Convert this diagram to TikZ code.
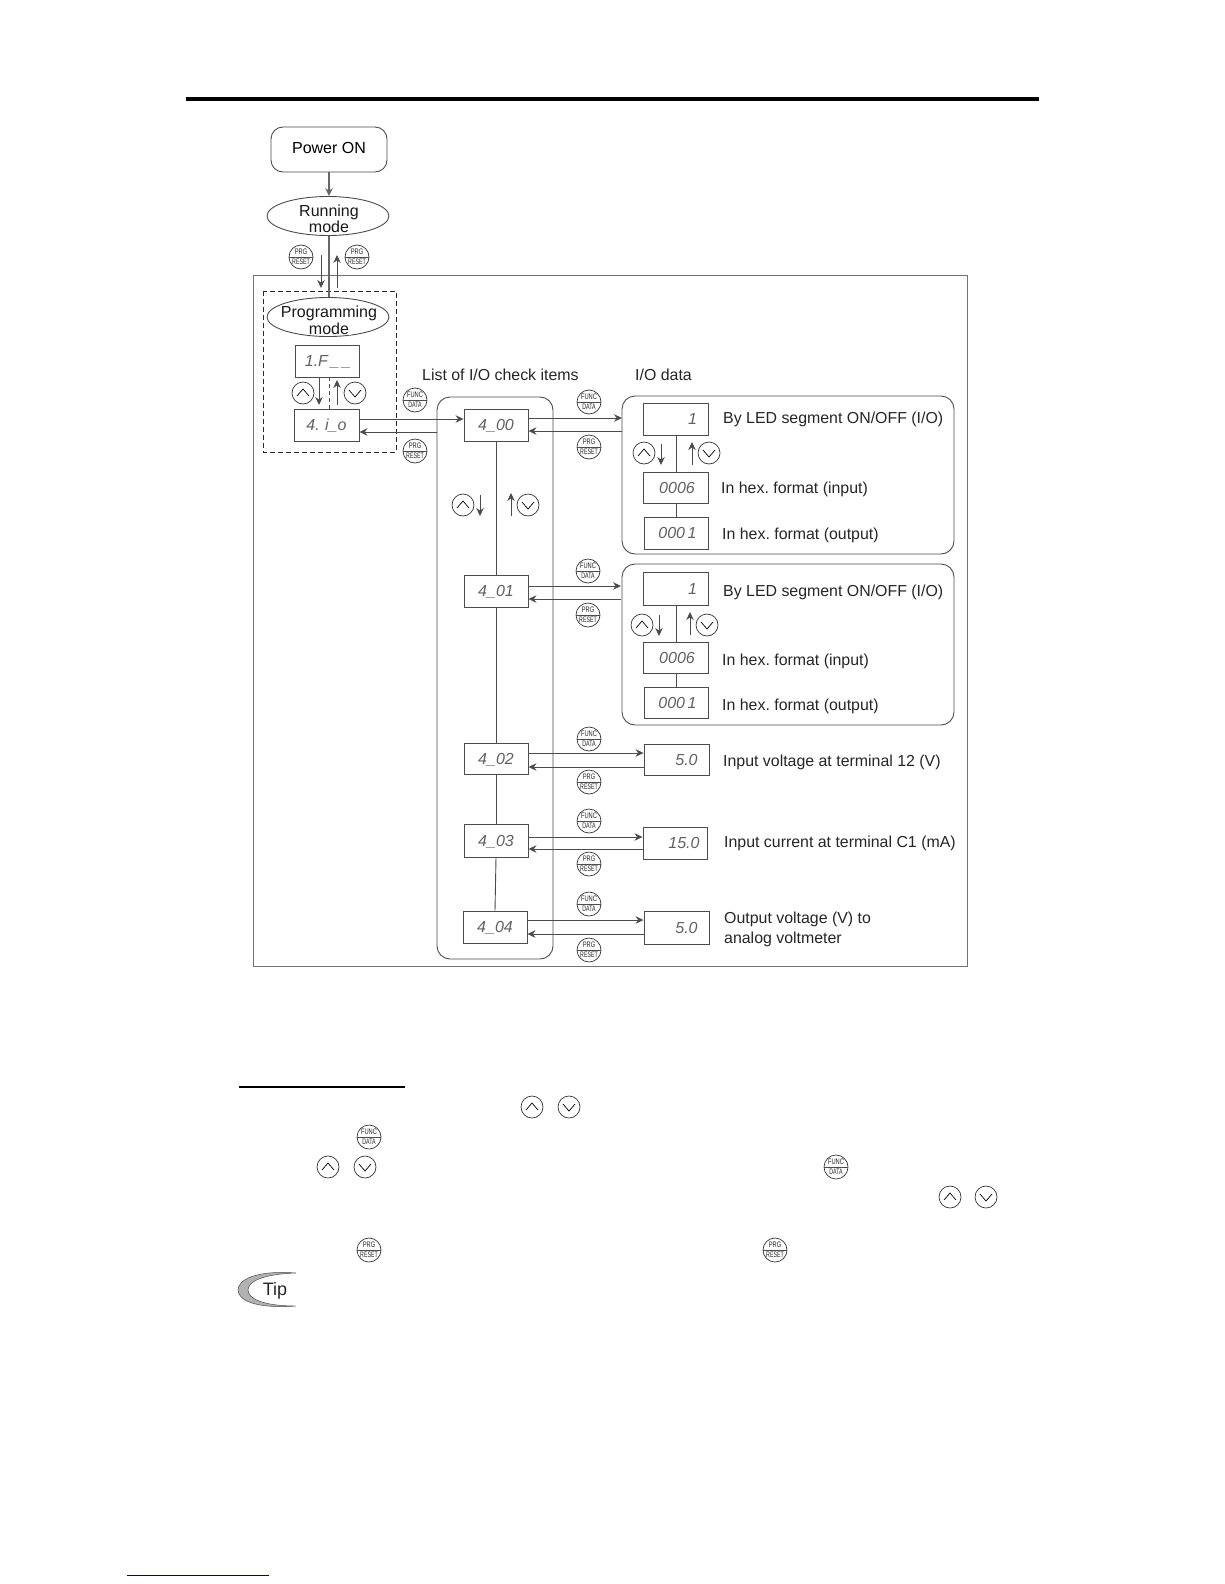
\documentclass[tikz,border=0pt]{standalone}
\usepackage{fontspec}
\usepackage{graphicx}
\setmainfont{Liberation Sans}
\usetikzlibrary{shapes.geometric,arrows.meta}
\definecolor{ln}{gray}{0.3}
\frenchspacing
\tikzset{
 x=1pt,y=-1pt,
 ln/.style={draw=ln,line width=0.9pt},
 arr/.style={ln,-{Stealth[length=8pt,width=7.5pt]}},
 lbl/.style={font=\fontsize{15.9}{20}\selectfont,inner sep=0pt,text=black!85,yshift=-1.2pt},
 lblL/.style={lbl,anchor=west},
 disp/.style={ln,fill=white,inner sep=0pt,font=\fontsize{16}{16}\selectfont\itshape,text=black!62,align=center,text height=11.5pt,text depth=0pt},
 btnshape/.style={ellipse,draw=black!80,line width=0.7pt,fill=white,inner sep=0pt,minimum width=#1,minimum height=#1},
 keytxt/.style={font=\fontsize{8}{8}\selectfont,inner sep=0pt,text=black!85},
 modeell/.style={ellipse,ln,fill=white,minimum width=122pt,minimum height=39pt,inner sep=0pt},
 modetxt/.style={inner sep=0pt,font=\fontsize{16}{15.5}\selectfont,text=black!90},
 panel/.style={ln,rounded corners=13pt,fill=white}
}
% two-legend key: name, x, y, upper, lower
\newcommand\legendkey[5]{%
 \node[btnshape=24pt] (#1) at (#2,#3) {};
 \draw[black!70,line width=0.8pt] (#1.west) -- (#1.east);
 \node[keytxt] (#1t) at ([yshift=5pt]#1.center) {\scalebox{0.72}[1]{#4}};
 \node[keytxt] (#1b) at ([yshift=-5pt]#1.center) {\scalebox{0.66}[1]{#5}};}
\newcommand\funckey[3]{\legendkey{#1}{#2}{#3}{FUNC}{DATA}}
\newcommand\prgkey[3]{\legendkey{#1}{#2}{#3}{PRG}{RESET}}
\newcommand\upkey[3]{\node[btnshape=22pt] (#1) at (#2,#3) {};
 \draw[black,line width=0.7pt] ([shift={(-6,3)}]#1.center) -- ([shift={(0,-4)}]#1.center) -- ([shift={(6,3)}]#1.center);}
\newcommand\downkey[3]{\node[btnshape=22pt] (#1) at (#2,#3) {};
 \draw[black,line width=0.7pt] ([shift={(-6,-3)}]#1.center) -- ([shift={(0,4)}]#1.center) -- ([shift={(6,-3)}]#1.center);}
% display: name, x1, y1, x2, y2, text
\newcommand\dispbox[6]{\node[disp,minimum width=#4pt-#2pt,minimum height=#5pt-#3pt] (#1) at ({(#2+#4)/2},{(#3+#5)/2}) {#6};}
\begin{document}
\begin{tikzpicture}
\useasboundingbox[fill=white] (0,0) rectangle (1224,1584);
% rules
\coordinate (topa) at (186,99); \coordinate (topb) at (1039,99);
\draw[black,line width=4pt] (topa) -- (topb);
\coordinate (ula) at (239,1087); \coordinate (ulb) at (405,1087);
\draw[black,line width=1.6pt] (ula) -- (ulb);
\coordinate (bla) at (127,1575); \coordinate (blb) at (269,1575);
\draw[blue!55!black,line width=1pt] (bla) -- (blb);
% outer frame
\node[draw=black!55,line width=0.9pt,inner sep=0pt,minimum width=714pt,minimum height=691pt,anchor=north west] (outer) at (253,275) {};
% list + panels
\draw[panel] (437,397) rectangle (553,959);
\node[inner sep=0pt] (listleft) at (437,432) {};
\draw[panel] (622,396) rectangle (954,554);
\draw[panel] (622,564) rectangle (954,725);
\coordinate (paL1a) at (622,418); \coordinate (paL1b) at (622,431);
\coordinate (paL2a) at (621,586); \coordinate (paL2b) at (621,599);
% top
\node[ln,rounded corners=12pt,minimum width=116pt,minimum height=45pt,inner sep=0pt,font=\fontsize{16}{16}\selectfont] (power) at (329,149.5) {\raisebox{3pt}{Power ON}};
\node[modeell] (run) at (328,216) {};
\node[modetxt,align=center] (runt) at (329,219) {Running\\mode};
\draw[draw=black!60,line width=1.6pt,-{Stealth[length=8pt,width=7.5pt]}] (power.south -| 329,0) -- (run.north -| 329,0);
% dashed group
\draw[black!85,dashed,line width=0.9pt,dash pattern=on 5pt off 3pt] (263,291) rectangle (396,452);
\node[modeell] (prog) at (328,317) {};
\node[modetxt] (progt) at (329,313) {Programming};
\node[modetxt,fill=white,inner xsep=2pt,inner ysep=0pt] (progm) at (329,329) {mode};
\draw[draw=black!60,line width=1.6pt] (run.south -| 329,0) -- (prog.north -| 329,0);
\prgkey{kp1}{301}{257}
\prgkey{kp2}{357}{257}
\coordinate (a1s) at (321,255); \coordinate (a1e) at (321,288);
\coordinate (a2s) at (337,288); \coordinate (a2e) at (337,255);
\draw[arr] (a1s) -- (a1e);
\draw[arr] (a2s) -- (a2e);
\dispbox{ifb}{295}{345}{359}{377}{\hspace*{2pt}1.F\,\_\,\_}
\dispbox{iob}{294}{409}{359}{441}{4.\,\,i\_o}
\draw[ln,dashed,dash pattern=on 4pt off 3pt] (ifb.south -| 329,0) -- (iob.north -| 329,0);
\upkey{u1}{303}{393}
\downkey{d1}{355}{393}
\coordinate (b1s) at (319,378); \coordinate (b1e) at (319,405);
\coordinate (b2s) at (337,405); \coordinate (b2e) at (337,380);
\draw[arr] (b1s) -- (b1e);
\draw[arr] (b2s) -- (b2e);
\funckey{kf0}{415}{400}
\prgkey{kr0}{415}{451}
\node[lblL] (tlist) at (422,374) {List of I/O check items};
\node[lblL] (tdata) at (635,374) {I/O data};
% list displays
\dispbox{i0}{464}{409}{528}{441}{4\_00}
\dispbox{i1}{464}{575}{528}{607}{4\_01}
\dispbox{i2}{464}{743}{528}{774}{4\_02}
\dispbox{i3}{464}{824}{528}{857}{4\_03}
\dispbox{i4}{463}{911}{527}{943}{4\_04}
\draw[ln] (i0.south) -- (i1.north);
\draw[ln] (i1.south) -- (i2.north);
\draw[ln] (i2.south) -- (i3.north);
\draw[ln] (i3.south) -- (i4.north);
\draw[arr] (iob.east |- 0,419) -- (i0.west |- 0,419);
\draw[arr] (listleft.center) -- (iob.east |- 0,432);
\upkey{u2}{463}{505}
\downkey{d2}{528}{505}
\coordinate (c1s) at (480,495); \coordinate (c1e) at (480,516);
\coordinate (c2s) at (511,516); \coordinate (c2e) at (511,493);
\draw[arr] (c1s) -- (c1e);
\draw[arr] (c2s) -- (c2e);
% panel 1
\dispbox{p1a}{643}{403}{708}{435}{\hspace*{34pt}1}
\dispbox{p1b}{643}{472}{708}{503}{\hspace*{3pt}0006}
\dispbox{p1c}{644}{517}{708}{549}{\hspace*{3pt}000\,1}
\draw[ln] (676,435) -- (676,472);
\draw[ln] (676,503) -- (676,517);
\node[lblL] (tp1a) at (723,418) {By LED segment ON/OFF (I/O)};
\node[lblL] (tp1b) at (721,488) {In hex. format (input)};
\node[lblL] (tp1c) at (722,534) {In hex. format (output)};
\upkey{u3}{644}{453}
\downkey{d3}{709}{453}
\coordinate (e1s) at (661,444); \coordinate (e1e) at (661,465);
\coordinate (e2s) at (692,465); \coordinate (e2e) at (692,442);
\draw[arr] (e1s) -- (e1e);
\draw[arr] (e2s) -- (e2e);
% panel 2
\dispbox{p2a}{643}{572}{708}{605}{\hspace*{34pt}1}
\dispbox{p2b}{643}{642}{708}{673}{\hspace*{3pt}0006}
\dispbox{p2c}{644}{687}{708}{718}{\hspace*{3pt}000\,1}
\draw[ln] (676,605) -- (676,642);
\draw[ln] (676,673) -- (676,687);
\node[lblL] (tp2a) at (723,591) {By LED segment ON/OFF (I/O)};
\node[lblL] (tp2b) at (722,660) {In hex. format (input)};
\node[lblL] (tp2c) at (722,705) {In hex. format (output)};
\upkey{u4}{642}{625}
\downkey{d4}{707}{625}
\coordinate (g1s) at (659,615); \coordinate (g1e) at (659,636);
\coordinate (g2s) at (690,635); \coordinate (g2e) at (690,612);
\draw[arr] (g1s) -- (g1e);
\draw[arr] (g2s) -- (g2e);
% single-value displays
\dispbox{v2}{644}{744}{709}{775}{\hspace*{20pt}5.0}
\dispbox{v3}{643}{827}{707}{859}{\hspace*{18pt}15.0}
\dispbox{v4}{644}{911}{709}{944}{\hspace*{20pt}5.0}
\node[lblL] (tv2) at (723,761) {Input voltage at terminal 12 (V)};
\node[lblL] (tv3) at (724,842) {Input current at terminal C1 (mA)};
\node[lblL,align=left] (tv4) at (724,928) {Output voltage (V) to\\analog voltmeter};
% horizontal connectors
\draw[arr] (i0.east |- 0,418) -- (paL1a);
\draw[arr] (paL1b) -- (i0.east |- 0,431);
\draw[arr] (i1.east |- 0,586) -- (paL2a);
\draw[arr] (paL2b) -- (i1.east |- 0,599);
\draw[arr] (i2.east |- 0,753) -- (v2.west |- 0,753);
\draw[arr] (v2.west |- 0,767) -- (i2.east |- 0,767);
\draw[arr] (i3.east |- 0,837) -- (v3.west |- 0,837);
\draw[arr] (v3.west |- 0,849) -- (i3.east |- 0,849);
\draw[arr] (i4.east |- 0,920) -- (v4.west |- 0,920);
\draw[arr] (v4.west |- 0,934) -- (i4.east |- 0,934);
% keys by connectors
\funckey{kf1}{589}{402}\prgkey{kr1}{589}{447}
\funckey{kf2}{588}{571}\prgkey{kr2}{588}{615}
\funckey{kf3}{589}{739}\prgkey{kr3}{589}{782}
\funckey{kf4}{589}{821}\prgkey{kr4}{589}{864}
\funckey{kf5}{589}{904}\prgkey{kr5}{589}{950}
% lower keys
\upkey{u5}{532}{1107}\downkey{d5}{569}{1107}
\funckey{kf6}{369}{1137}
\upkey{u6}{328}{1167}\downkey{d6}{365}{1167}
\funckey{kf7}{836}{1167}
\upkey{u7}{950}{1197}\downkey{d7}{986}{1197}
\prgkey{kr6}{369}{1250}\prgkey{kr7}{775}{1250}
% Tip
\draw[black!70,line width=0.5pt,fill=black!30] (296,1273) .. controls (255,1270) and (238,1280) .. (238,1290) .. controls (238,1300) and (255,1309) .. (296,1306) .. controls (264,1306) and (248,1299) .. (248,1290) .. controls (248,1281) and (264,1274) .. (296,1273);
\node[inner sep=0pt,font=\fontsize{18}{18}\selectfont,text=black!85] (tip) at (275,1291) {Tip};
\end{tikzpicture}
\end{document}
